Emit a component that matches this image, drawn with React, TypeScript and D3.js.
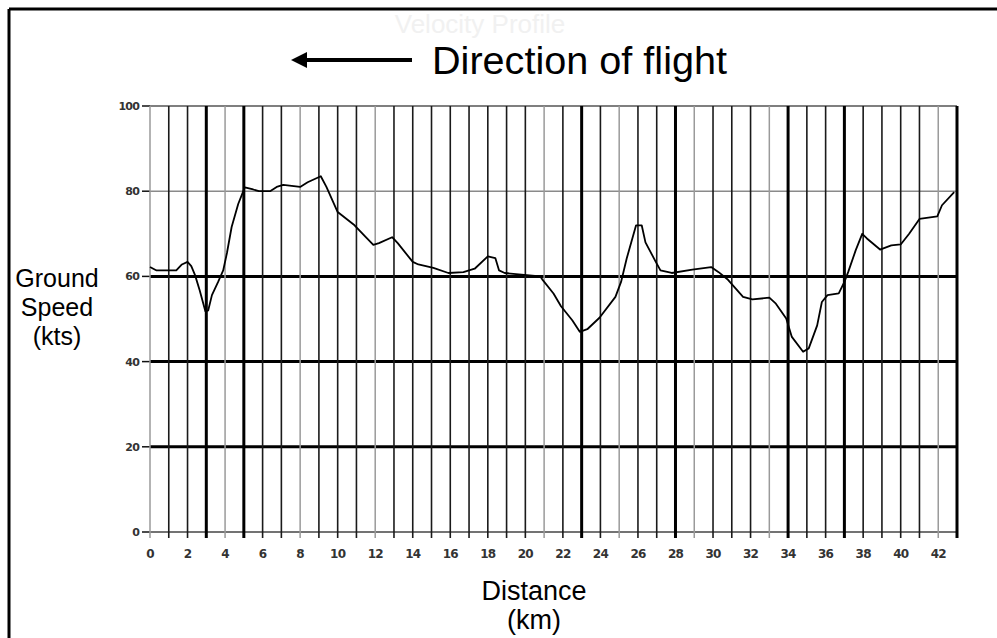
import React from "react";
import * as d3 from "d3";

const distanceKm = [0, 0.35, 1.4, 1.7, 2.0, 2.2, 2.4, 2.65, 2.95, 3.1, 3.3, 3.63, 3.9, 4.1, 4.35, 4.7, 5.05, 5.5, 5.8, 6.4, 6.75, 7.1, 8.0, 8.4, 9.1, 9.4, 10.0, 10.9, 11.5, 11.9, 12.2, 12.9, 13.2, 14.0, 14.3, 15.1, 15.9, 16.7, 17.3, 18.0, 18.4, 18.6, 18.9, 20.8, 20.9, 21.5, 21.9, 22.5, 22.9, 23.3, 23.95, 24.8, 25.1, 25.4, 25.9, 26.2, 26.4, 26.95, 27.2, 27.8, 28.9, 29.9, 30.3, 30.8, 31.6, 32.1, 33.0, 33.35, 33.9, 34.2, 34.8, 35.1, 35.55, 35.8, 36.1, 36.7, 37.0, 37.2, 37.6, 37.95, 38.2, 38.9, 39.5, 40.0, 40.45, 41.0, 41.95, 42.2, 42.85];
const groundSpeed = [62.2, 61.4, 61.4, 62.8, 63.4, 62.4, 60.3, 56.7, 51.8, 52, 55.6, 58.7, 61.4, 65.5, 71.6, 77, 80.9, 80.4, 80, 80, 81, 81.5, 81, 82.1, 83.5, 81, 75.1, 72, 69.2, 67.4, 67.8, 69.2, 67.8, 63.4, 62.8, 62, 60.8, 61, 61.8, 64.7, 64.3, 61.4, 60.8, 60, 59.3, 56, 53, 49.7, 47, 47.6, 50.3, 55.2, 58.7, 64.2, 72, 72, 68, 63.4, 61.4, 60.8, 61.6, 62.2, 61, 59.2, 55.2, 54.6, 55, 53.6, 50.1, 45.8, 42.3, 43.1, 48.5, 54, 55.6, 56, 58.7, 61, 66.1, 70, 68.9, 66.3, 67.3, 67.5, 70, 73.5, 74.1, 76.7, 79.8];

const gridKm = d3.range(0, 44);
const thickKm = [3, 5, 23, 28, 34, 37, 43];
const grayKm = [0, 4, 8, 12, 21, 25, 29, 33, 42];
const xTickLabels = d3.range(0, 43, 2);
const yTicks = [0, 20, 40, 60, 80, 100];

const ghostTitle = "Velocity Profile";
const title = "Direction of flight";
const yTitle = ["Ground", "Speed", "(kts)"];
const xTitle = ["Distance", "(km)"];

export default function App() {
  const x = d3.scaleLinear().domain([0, 43]).range([150, 957]);
  const y = d3.scaleLinear().domain([0, 100]).range([532, 106]);
  const pts = distanceKm.map((d, i) => [d, groundSpeed[i]] as [number, number]);
  const line = d3.line<[number, number]>().x((d) => x(d[0])).y((d) => y(d[1]));

  const vStyle = (k: number) =>
    thickKm.includes(k)
      ? { stroke: "#000", w: 3 }
      : grayKm.includes(k)
      ? { stroke: "#9a9a9a", w: 1.5 }
      : { stroke: "#1a1a1a", w: 1.6 };
  const hStyle = (v: number) =>
    v === 100
      ? { stroke: "#555", w: 1.6 }
      : v === 80
      ? { stroke: "#8a8a8a", w: 1.5 }
      : v === 0
      ? { stroke: "#444", w: 1.6 }
      : { stroke: "#000", w: 3 };

  return (
    <div style={{ position: "absolute", left: 0, top: 0 }}>
      <svg width={997} height={638} style={{ display: "block", background: "#fff" }}>
        <rect x={0} y={0} width={997} height={638} fill="#fff" />
        {/* frame */}
        <line x1={9} y1={9} x2={997} y2={9} stroke="#000" strokeWidth={3} />
        <line x1={9} y1={9} x2={9} y2={638} stroke="#000" strokeWidth={3} />
        {/* faint ghost title */}
        <text x={480} y={33} textAnchor="middle" fontFamily="Liberation Sans, Arial, sans-serif" fontSize={26} fill="#f1f1f1">
          {ghostTitle}
        </text>
        {/* title with arrow */}
        <line x1={304} y1={60} x2={412} y2={60} stroke="#000" strokeWidth={4} />
        <polygon points="291,60 307,52 307,68" fill="#000" />
        <text x={432} y={74} fontFamily="Liberation Sans, Arial, sans-serif" fontSize={39} fill="#000" textLength={295} lengthAdjust="spacingAndGlyphs">
          {title}
        </text>

        {/* horizontal grid */}
        {yTicks.map((v) => {
          const s = hStyle(v);
          return (
            <g key={"h" + v}>
              <line x1={x(0)} x2={x(43)} y1={y(v)} y2={y(v)} stroke={s.stroke} strokeWidth={s.w} />
              <line x1={142} x2={x(0)} y1={y(v)} y2={y(v)} stroke="#111" strokeWidth={1.5} />
              <text x={139} y={y(v) + 4} textAnchor="end" fontFamily="DejaVu Sans, sans-serif" fontSize={11} fontWeight="bold" fill="#333" letterSpacing={-0.8}>
                {v}
              </text>
            </g>
          );
        })}
        {/* vertical grid */}
        {gridKm.map((k) => {
          const s = vStyle(k);
          return <line key={"v" + k} x1={x(k)} x2={x(k)} y1={y(100)} y2={y(0) + 6} stroke={s.stroke} strokeWidth={s.w} />;
        })}
        {xTickLabels.map((k) => (
          <text key={"xl" + k} x={x(k)} y={558} textAnchor="middle" fontFamily="DejaVu Sans, sans-serif" fontSize={12} fontWeight="bold" fill="#333" letterSpacing={-0.8}>
            {k}
          </text>
        ))}

        {/* data line */}
        <path d={line(pts) || ""} fill="none" stroke="#000" strokeWidth={1.8} strokeLinejoin="round" />

        {/* axis titles */}
        {yTitle.map((t, i) => (
          <text key={t} x={57} y={287 + i * 29} textAnchor="middle" fontFamily="Liberation Sans, Arial, sans-serif" fontSize={25} fill="#000">
            {t}
          </text>
        ))}
        {xTitle.map((t, i) => (
          <text key={t} x={534} y={600 + i * 29} textAnchor="middle" fontFamily="Liberation Sans, Arial, sans-serif" fontSize={27} fill="#000">
            {t}
          </text>
        ))}
      </svg>
    </div>
  );
}
